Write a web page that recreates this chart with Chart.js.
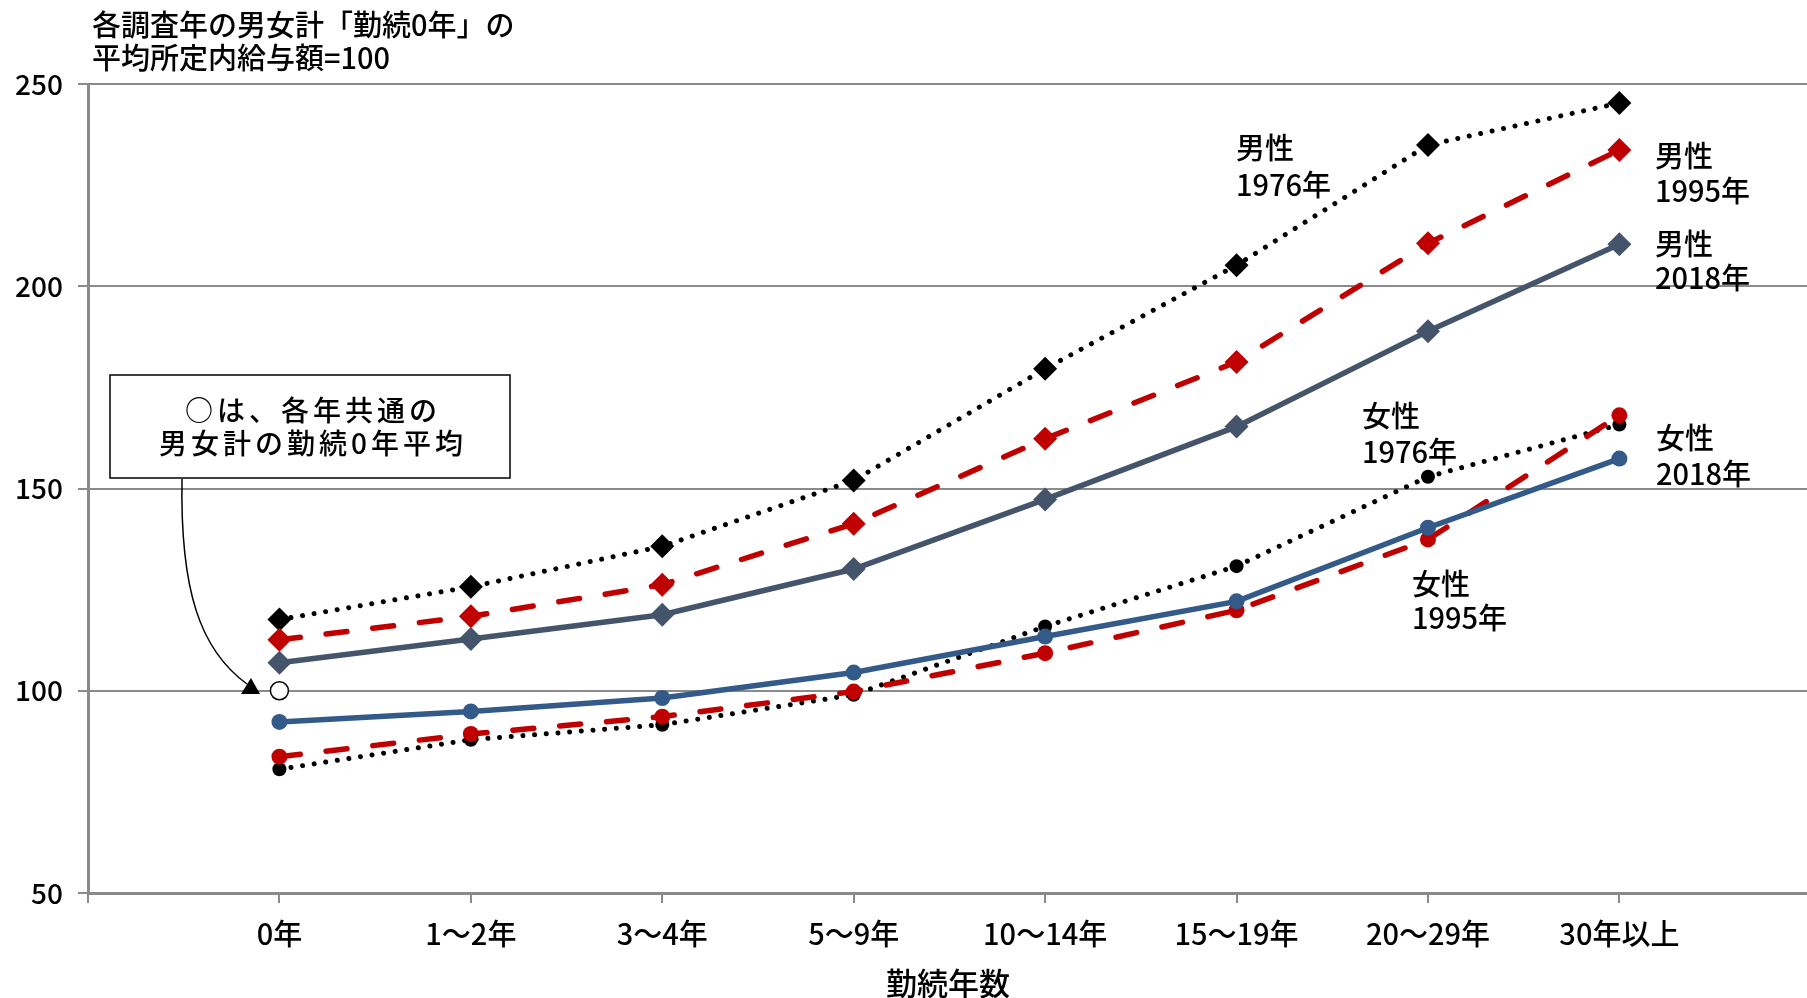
<!DOCTYPE html>
<html>
<head>
<meta charset="utf-8">
<script src="https://cdn.jsdelivr.net/npm/chart.js@4.4.1/dist/chart.umd.min.js"></script>
<style>
html,body{margin:0;padding:0;background:#fff;overflow:hidden}
#c{display:block}
</style>
</head>
<body>
<canvas id="c" width="1807" height="998"></canvas>
<script>
// ---- data ----
const categories = ['0年','1～2年','3～4年','5～9年','10～14年','15～19年','20～29年','30年以上'];
const yTicks = [50, 100, 150, 200, 250];
const male1976   = [117.6, 125.7, 135.7, 152.0, 179.6, 205.2, 234.9, 245.3];
const male1995   = [112.6, 118.4, 126.2, 141.3, 162.3, 181.3, 210.6, 233.7];
const male2018   = [106.9, 112.8, 118.8, 130.1, 147.3, 165.3, 188.9, 210.4];
const female1976 = [80.6, 87.9, 91.6, 99.0, 115.9, 130.8, 152.9, 165.8];
const female1995 = [83.7, 89.3, 93.6, 99.8, 109.3, 119.9, 137.4, 168.1];
const female2018 = [92.3, 94.9, 98.2, 104.5, 113.4, 122.1, 140.3, 157.4];
const commonBase = [100]; // 男女計 勤続0年平均 (各年共通)
const titleLines = ['各調査年の男女計「勤続0年」の', '平均所定内給与額=100'];
const xTitle = '勤続年数';
const noteLines = ['○は、各年共通の', '男女計の勤続0年平均'];
const seriesLabels = [
  ['男性', '1976年'], ['男性', '1995年'], ['男性', '2018年'],
  ['女性', '1976年'], ['女性', '1995年'], ['女性', '2018年']
];

const FONT = '"Noto Sans CJK JP", "Noto Sans", sans-serif';
Chart.defaults.font.family = FONT;
Chart.defaults.color = '#000';

const toXY = arr => arr.map((v, i) => ({x: i, y: v}));
const GRID = '#8a8a8a';
const BLACK = '#000000', RED = '#C00000', SLATE = '#44546A', BLUE = '#335A88';

function ds(label, data, color, style, marker, radius, order) {
  const d = {
    label, data: toXY(data), borderColor: color, backgroundColor: color,
    pointBackgroundColor: color, pointBorderColor: color, pointBorderWidth: 0,
    pointStyle: marker, pointRadius: radius, pointHoverRadius: radius,
    tension: 0, fill: false, order
  };
  if (style === 'dot') { d.borderWidth = 5; d.borderDash = [0.01, 11.7]; d.borderCapStyle = 'round'; }
  else if (style === 'dash') { d.borderWidth = 5.5; d.borderDash = [21, 26]; d.borderCapStyle = 'round'; }
  else { d.borderWidth = 5.5; }
  return d;
}

const annot = {
  id: 'annot',
  afterDraw(chart) {
    const ctx = chart.ctx;
    ctx.save();
    ctx.fillStyle = '#000';
    ctx.textBaseline = 'middle';
    ctx.textAlign = 'left';
    // title (top-left)
    ctx.font = '500 29px ' + FONT;
    ctx.fillText(titleLines[0], 92, 25);
    ctx.fillText(titleLines[1], 92, 58);
    // series labels
    ctx.font = '500 29px ' + FONT;
    const pos = [[1236, 148, 185], [1655, 156, 191], [1655, 244, 278],
                 [1362, 416, 452], [1412, 584, 618], [1656, 438, 474]];
    seriesLabels.forEach((l, i) => {
      ctx.fillText(l[0], pos[i][0], pos[i][1]);
      ctx.fillText(l[1], pos[i][0], pos[i][2]);
    });
    // x axis title
    ctx.textAlign = 'center';
    ctx.font = '500 31px ' + FONT;
    ctx.fillText(xTitle, 948, 983);
    // note box
    ctx.fillStyle = '#fff';
    ctx.fillRect(110, 375, 400, 103);
    ctx.strokeStyle = '#000';
    ctx.lineWidth = 1.5;
    ctx.strokeRect(110, 375, 400, 103);
    ctx.fillStyle = '#000';
    ctx.font = '500 28px ' + FONT;
    ctx.letterSpacing = '4px';
    ctx.textAlign = 'left';
    noteLines.forEach((t, i) => {
      const w = ctx.measureText(t).width - 4;
      ctx.fillText(t, 311 - w / 2, i === 0 ? 410 : 443);
    });
    ctx.letterSpacing = '0px';
    // arrow
    ctx.beginPath();
    ctx.moveTo(182, 479);
    ctx.bezierCurveTo(180, 590, 200, 650, 247, 684);
    ctx.lineWidth = 1.5;
    ctx.stroke();
    ctx.beginPath();
    ctx.moveTo(241, 694);
    ctx.lineTo(260, 694);
    ctx.lineTo(251, 678);
    ctx.closePath();
    ctx.fill();
    ctx.restore();
  }
};

new Chart(document.getElementById('c'), {
  type: 'line',
  data: {
    datasets: [
      {label: '男女計0年', data: commonBase.map((v, i) => ({x: i, y: v})), showLine: false,
       pointStyle: 'circle', pointRadius: 9, pointHoverRadius: 9, pointBackgroundColor: '#fff',
       pointBorderColor: '#000', pointBorderWidth: 1.5, borderColor: '#000', backgroundColor: '#fff', order: 0},
      ds('女性2018年', female2018, BLUE, 'solid', 'circle', 8, 1),
      ds('男性2018年', male2018, SLATE, 'solid', 'rectRot', 12, 2),
      ds('女性1995年', female1995, RED, 'dash', 'circle', 8, 3),
      ds('男性1995年', male1995, RED, 'dash', 'rectRot', 12, 4),
      ds('女性1976年', female1976, BLACK, 'dot', 'circle', 7, 5),
      ds('男性1976年', male1976, BLACK, 'dot', 'rectRot', 12, 6)
    ]
  },
  options: {
    responsive: false,
    devicePixelRatio: 1,
    animation: false,
    events: [],
    layout: {autoPadding: false, padding: {top: 84, right: 0, left: 0, bottom: 0}},
    plugins: {legend: {display: false}, tooltip: {enabled: false}, title: {display: false}},
    scales: {
      x: {
        type: 'linear', min: -1, max: 7.98,
        afterBuildTicks: s => { s.ticks = [-1].concat(categories.map((c, i) => i)).map(v => ({value: v})); },
        afterFit: s => { s.height = 105; s.paddingLeft = 0; s.paddingRight = 0; s.paddingTop = 0; s.paddingBottom = 0; },
        ticks: {
          callback: v => (v >= 0 && v < categories.length) ? categories[v] : '',
          font: {size: 29, weight: 500}, color: '#000', padding: 14, maxRotation: 0, autoSkip: false
        },
        grid: {drawOnChartArea: false, drawTicks: true, tickLength: 10, color: GRID, lineWidth: 2},
        border: {color: GRID, width: 3}
      },
      y: {
        min: 50, max: 250,
        afterBuildTicks: s => { s.ticks = yTicks.map(v => ({value: v})); },
        afterFit: s => { s.width = 88; s.paddingLeft = 0; s.paddingRight = 0; s.paddingTop = 0; s.paddingBottom = 0; },
        ticks: {font: {size: 28, weight: 500}, color: '#000', padding: 15},
        grid: {color: GRID, lineWidth: 2, tickLength: 10},
        border: {color: GRID, width: 3}
      }
    }
  },
  plugins: [annot]
});
</script>
</body>
</html>
